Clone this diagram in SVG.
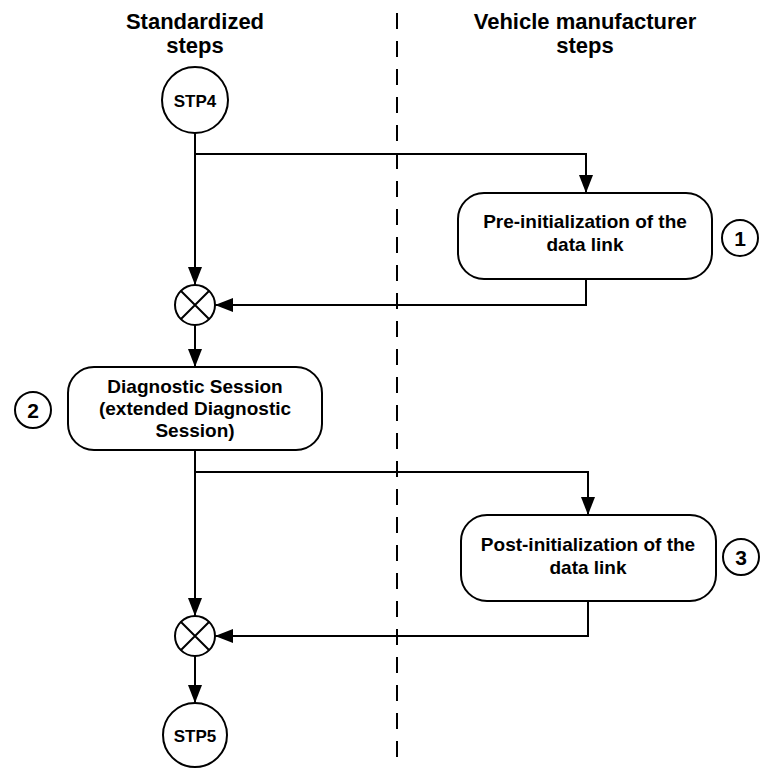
<svg xmlns="http://www.w3.org/2000/svg" width="767" height="768" viewBox="0 0 767 768">
<style>
text{font-family:"Liberation Sans",Arial,sans-serif;font-weight:bold;fill:#000;text-anchor:middle}
.hdr{font-size:22px}
.num{font-size:21px}
.box{font-size:19px}
.lbl{font-size:17px}
.shape{fill:#fff;stroke:#000;stroke-width:2}
.conn{fill:none;stroke:#000;stroke-width:2}
.lane{stroke:#000;stroke-width:2;stroke-dasharray:16 12}
</style>
<defs>
<marker id="ah" markerUnits="userSpaceOnUse" markerWidth="20" markerHeight="16" refX="18" refY="7" orient="auto">
<path d="M0,0 L18,7 L0,14 Z" fill="#000"/>
</marker>
</defs>
<rect width="767" height="768" fill="#fff"/>
<line class="lane" x1="397" y1="13" x2="397" y2="768"/>
<g id="headers">
<text class="hdr" x="195" y="29">Standardized</text>
<text class="hdr" x="195" y="53">steps</text>
<text class="hdr" x="585" y="29">Vehicle manufacturer</text>
<text class="hdr" x="585" y="53">steps</text>
</g>
<g id="connectors">
<line class="conn" x1="195" y1="133" x2="195" y2="285" marker-end="url(#ah)"/>
<polyline class="conn" points="195,154 586,154 586,193" marker-end="url(#ah)"/>
<polyline class="conn" points="586,279 586,305 215,305" marker-end="url(#ah)"/>
<line class="conn" x1="195" y1="325" x2="195" y2="367" marker-end="url(#ah)"/>
<line class="conn" x1="195" y1="450" x2="195" y2="616" marker-end="url(#ah)"/>
<polyline class="conn" points="195,472 588,472 588,515" marker-end="url(#ah)"/>
<polyline class="conn" points="588,601 588,636 215,636" marker-end="url(#ah)"/>
<line class="conn" x1="195" y1="656" x2="195" y2="703" marker-end="url(#ah)"/>
</g>
<g id="stp4">
<circle class="shape" cx="195" cy="100" r="33"/>
<text class="lbl" x="195" y="107">STP4</text>
</g>
<g id="merge1">
<circle class="shape" cx="195" cy="305" r="20"/>
<path class="conn" d="M181,291 L209,319 M209,291 L181,319"/>
</g>
<g id="preinit">
<rect class="shape" x="458" y="193" width="254" height="86" rx="26"/>
<text class="box" x="585" y="228">Pre-initialization of the</text>
<text class="box" x="585" y="251">data link</text>
</g>
<g id="step1">
<circle class="shape" cx="740" cy="238" r="18"/>
<text class="num" x="740" y="246">1</text>
</g>
<g id="diagsession">
<rect class="shape" x="68" y="367" width="254" height="83" rx="26"/>
<text class="box" x="195" y="393">Diagnostic Session</text>
<text class="box" x="195" y="415">(extended Diagnostic</text>
<text class="box" x="195" y="437">Session)</text>
</g>
<g id="step2">
<circle class="shape" cx="33" cy="410" r="18"/>
<text class="num" x="33" y="418">2</text>
</g>
<g id="postinit">
<rect class="shape" x="461" y="515" width="255" height="86" rx="26"/>
<text class="box" x="588" y="551">Post-initialization of the</text>
<text class="box" x="588" y="574">data link</text>
</g>
<g id="step3">
<circle class="shape" cx="741" cy="557" r="18"/>
<text class="num" x="741" y="565">3</text>
</g>
<g id="merge2">
<circle class="shape" cx="195" cy="636" r="20"/>
<path class="conn" d="M181,622 L209,650 M209,622 L181,650"/>
</g>
<g id="stp5">
<circle class="shape" cx="195" cy="735" r="32"/>
<text class="lbl" x="195" y="742">STP5</text>
</g>
</svg>
